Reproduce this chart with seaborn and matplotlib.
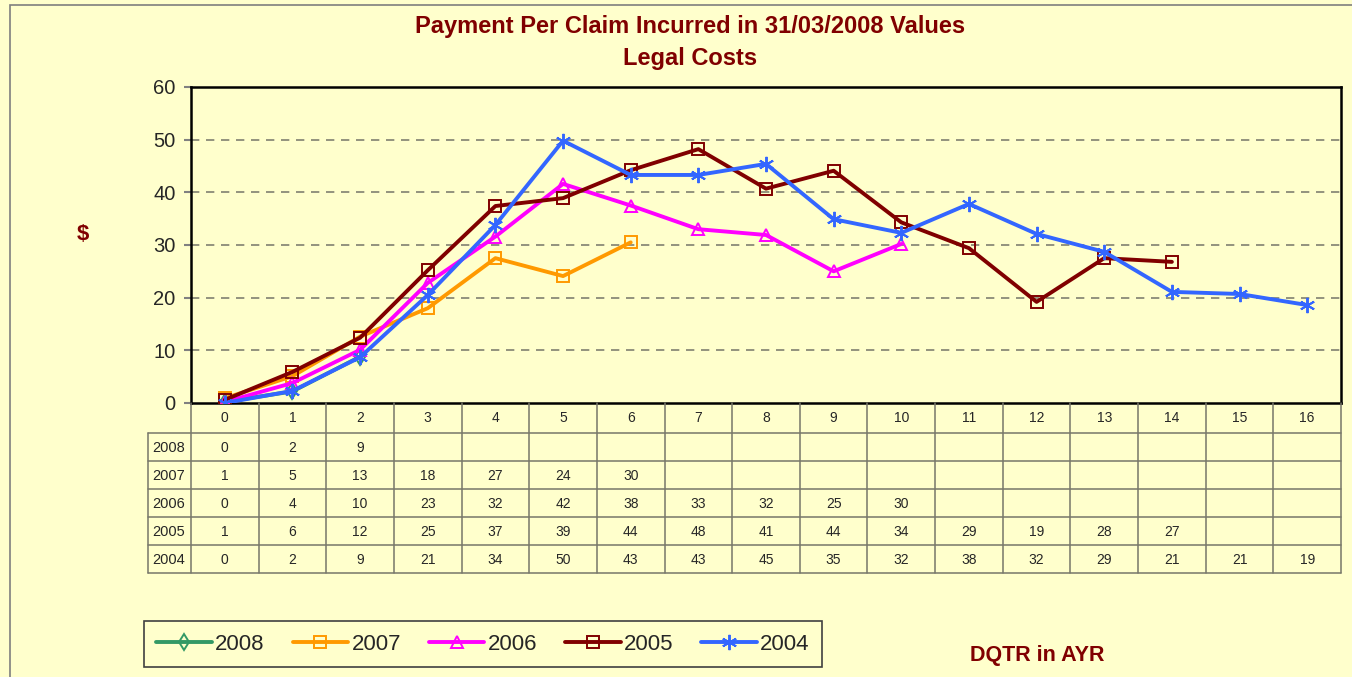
import numpy as np
import pandas as pd
import matplotlib
matplotlib.use("Agg")
import matplotlib.pyplot as plt
from matplotlib.patches import Rectangle
from matplotlib.lines import Line2D
import seaborn as sns

# ---- data ----
quarters = list(range(17))
series_names = ["2008", "2007", "2006", "2005", "2004"]
v2008 = [0.2, 2.2, 8.8]
v2007 = [0.9, 5.1, 12.6, 18.0, 27.5, 24.1, 30.5]
v2006 = [0.2, 3.8, 10.1, 22.8, 31.6, 41.6, 37.5, 33.0, 31.9, 25.0, 30.2]
v2005 = [0.6, 5.9, 12.4, 25.2, 37.4, 38.9, 44.2, 48.2, 40.7, 44.1, 34.3, 29.4, 19.2, 27.5, 26.8]
v2004 = [0.0, 2.3, 8.7, 20.5, 33.8, 49.8, 43.3, 43.3, 45.4, 34.9, 32.3, 37.8, 32.1, 28.7, 21.1, 20.7, 18.6]
table_2008 = [0, 2, 9]
table_2007 = [1, 5, 13, 18, 27, 24, 30]
table_2006 = [0, 4, 10, 23, 32, 42, 38, 33, 32, 25, 30]
table_2005 = [1, 6, 12, 25, 37, 39, 44, 48, 41, 44, 34, 29, 19, 28, 27]
table_2004 = [0, 2, 9, 21, 34, 50, 43, 43, 45, 35, 32, 38, 32, 29, 21, 21, 19]
yticks = [0, 10, 20, 30, 40, 50, 60]
title_line1 = "Payment Per Claim Incurred in 31/03/2008 Values"
title_line2 = "Legal Costs"
ylabel = "$"
xlabel = "DQTR in AYR"

values = {"2008": v2008, "2007": v2007, "2006": v2006, "2005": v2005, "2004": v2004}
tables = {"2008": table_2008, "2007": table_2007, "2006": table_2006, "2005": table_2005, "2004": table_2004}
colors = {"2008": "#339966", "2007": "#FF9900", "2006": "#FF00FF", "2005": "#800000", "2004": "#3366FF"}
markers = {"2008": "d", "2007": "s", "2006": "^", "2005": "s", "2004": (6, 2, 0)}
msizes = {"2008": 8, "2007": 8, "2006": 8.5, "2005": 8, "2004": 11}

sns.set_style("white")
plt.rcParams["font.family"] = ["Liberation Sans", "DejaVu Sans"]

BG = "#FFFFCC"
W, H = 1352, 677
fig = plt.figure(figsize=(W / 100, H / 100), dpi=100, facecolor=BG)

def fx(px):
    return px / W

def fy(py):
    return 1 - py / H

# outer border
fig.patches.append(Rectangle((fx(10), fy(680)), fx(1360) - fx(10), fy(5) - fy(680),
                             transform=fig.transFigure, fill=False, edgecolor="#7f7f7f", lw=1.2))

L, R, T, B = 191, 1341, 87, 403
ax = fig.add_axes([fx(L), fy(B), fx(R) - fx(L), fy(T) - fy(B)])
ax.set_facecolor(BG)

LW = 2.8
for name in series_names:
    vals = values[name]
    df = pd.DataFrame({"q": quarters[:len(vals)], "v": vals})
    sns.lineplot(data=df, x="q", y="v", ax=ax, color=colors[name], lw=LW,
                 marker=markers[name], markersize=msizes[name],
                 markerfacecolor="none", markeredgecolor=colors[name], markeredgewidth=1.4,
                 label=name, legend=False, zorder=3)

ax.set_xlim(-0.5, 16.5)
ax.set_ylim(0, 60)
ax.set_yticks(yticks)
ax.set_yticklabels([str(t) for t in yticks], fontsize=14.5)
ax.set_xticks([])
ax.set_xlabel("")
ax.set_ylabel("")
for t in yticks[1:-1]:
    ax.axhline(t, color="#808070", lw=1.2, ls=(0, (5, 4)), zorder=1)
ax.tick_params(axis="y", length=5, width=1.5, color="#808080", pad=6, left=True)
for s in ax.spines.values():
    s.set_color("black")
    s.set_linewidth(1.8)

# ---- data table ----
TB = 573
tax = fig.add_axes([fx(L), fy(TB), fx(R) - fx(L), fy(B) - fy(TB)])
tax.set_xlim(-0.5, 16.5)
tax.set_ylim(TB - B, 0)
tax.axis("off")
tax.patch.set_alpha(0)
step = (R - L) / 17.0
xleft = -0.5 - (L - 148) / step
row_edges = [30, 58, 86, 114, 142, 170]
gc = "#77776a"
for k in range(18):
    tax.plot([-0.5 + k, -0.5 + k], [0, 170], color=gc, lw=1.1, clip_on=False)
for yy in row_edges:
    tax.plot([xleft, 16.5], [yy, yy], color=gc, lw=1.1, clip_on=False)
tax.plot([xleft, xleft], [30, 170], color=gc, lw=1.1, clip_on=False)
for q in quarters:
    tax.text(q, 15, str(q), ha="center", va="center", fontsize=10)
for i, name in enumerate(series_names):
    yc = (row_edges[i] + row_edges[i + 1]) / 2 + 1
    tax.text(xleft + 0.06, yc, name, ha="left", va="center", fontsize=10.5, clip_on=False)
    for q, v in enumerate(tables[name]):
        tax.text(q, yc, str(v), ha="center", va="center", fontsize=10)

# ---- texts ----
fig.text(fx(690), fy(26), title_line1, ha="center", va="center", fontsize=17, fontweight="bold",
         color="#800000")
fig.text(fx(690), fy(59), title_line2, ha="center", va="center", fontsize=17, fontweight="bold",
         color="#800000")
fig.text(fx(83), fy(234), ylabel, ha="center", va="center", fontsize=16, fontweight="bold", color="#800000")
fig.text(fx(1037), fy(656), xlabel, ha="center", va="center", fontsize=15.5, fontweight="bold", color="#800000")

# ---- legend ----
handles = [Line2D([], [], color=colors[n], lw=LW, marker=markers[n],
                  markersize=msizes[n], markerfacecolor="none",
                  markeredgecolor=colors[n], markeredgewidth=1.4) for n in series_names]
leg = fig.legend(handles, series_names, ncol=5, loc="center",
                 bbox_to_anchor=(fx(483), fy(644)), fontsize=16, frameon=True, fancybox=False,
                 facecolor=BG, edgecolor="#404040", handlelength=2.5, handletextpad=0.15,
                 columnspacing=1.25, borderpad=0.55)
leg.get_frame().set_linewidth(1.2)
leg.get_frame().set_alpha(1)

fig.savefig("out.png", dpi=100, facecolor=BG)
